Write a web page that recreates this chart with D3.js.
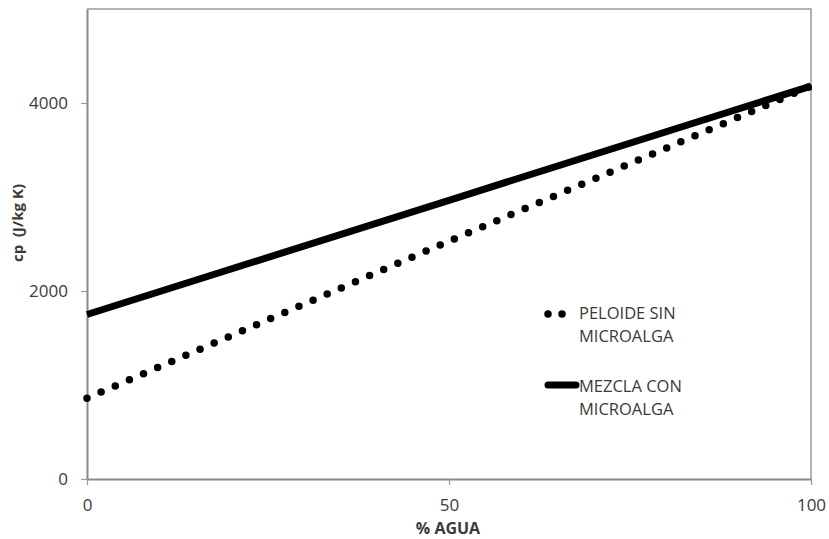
<!DOCTYPE html>
<html><head><meta charset="utf-8">
<script src="https://cdn.jsdelivr.net/npm/d3@7"></script>
<style>
html,body{margin:0;padding:0;background:#fff;}
svg text{font-family:"Open Sans",sans-serif;fill:#3a3a3a;}
</style></head>
<body>
<svg id="c" width="829" height="539"></svg>
<script>
const agua = [0, 50, 100];
const peloideSin = [860, 2530, 4180];
const mezclaCon = [1750, 2965, 4180];
const xTicks = [0, 50, 100];
const yTicks = [0, 2000, 4000];
const seriesNames = ["PELOIDE SIN|MICROALGA", "MEZCLA CON|MICROALGA"];

const svg = d3.select("#c");
const L = 87, R = 811, T = 9, B = 479;
const x = d3.scaleLinear().domain([0, 100]).range([L, R]);
const y = d3.scaleLinear().domain([0, 5000]).range([B, T]);

svg.append("path").attr("d", `M${L},${T}H${R}V${B}`).attr("fill","none")
  .attr("stroke","#9a9a9a").attr("stroke-width",1.5);

const ya = svg.append("g").attr("transform",`translate(${L},0)`)
  .call(d3.axisLeft(y).tickValues(yTicks).tickSize(6).tickSizeOuter(0).tickPadding(13).tickFormat(d3.format("d")));
const xa = svg.append("g").attr("transform",`translate(0,${B})`)
  .call(d3.axisBottom(x).tickValues(xTicks).tickSize(6).tickSizeOuter(0).tickPadding(14).tickFormat(d3.format("d")));
[ya, xa].forEach(a => {
  a.select(".domain").attr("stroke","#8a8a8a").attr("stroke-width",2);
  a.selectAll(".tick line").attr("stroke","#9a9a9a").attr("stroke-width",1.2);
  a.selectAll(".tick text").style("font-size","17px").attr("fill","#3a3a3a");
});

const pts = a => agua.map((d,i)=>[x(d), y(a[i])]);
const line = d3.line();

svg.append("path").attr("d", line(pts(mezclaCon))).attr("fill","none")
  .attr("stroke","#000").attr("stroke-width",7);
svg.append("path").attr("d", line(pts(peloideSin))).attr("fill","none")
  .attr("stroke","#000").attr("stroke-width",7.5).attr("stroke-linecap","round")
  .attr("stroke-dasharray","0,15.4");

svg.append("text").attr("x", 448).attr("y", 534).attr("text-anchor","middle")
  .style("font-size","16px").style("font-weight","bold").text("% AGUA");
svg.append("text").attr("transform","translate(23,223) rotate(-90)").attr("text-anchor","middle")
  .style("font-size","15px").style("font-weight","bold").style("white-space","pre").text("cp  (J/kg K)");

const lg = svg.append("g");
lg.append("path").attr("d", `M548,314H562.5`).attr("stroke","#000").attr("stroke-width",7.5)
  .attr("stroke-linecap","round").attr("stroke-dasharray","0,14");
lg.append("path").attr("d", `M548,385H576`).attr("stroke","#000").attr("stroke-width",7)
  .attr("stroke-linecap","round");
const tpos = [[579,319],[579,392]];
seriesNames.forEach((n,i)=>{
  const t = lg.append("text").attr("x",tpos[i][0]).attr("y",tpos[i][1]).style("font-size","16.5px");
  n.split("|").forEach((s,j)=>{
    t.append("tspan").attr("x",tpos[i][0]).attr("dy", j? 23 : 0).text(s);
  });
});
</script>
</body></html>
